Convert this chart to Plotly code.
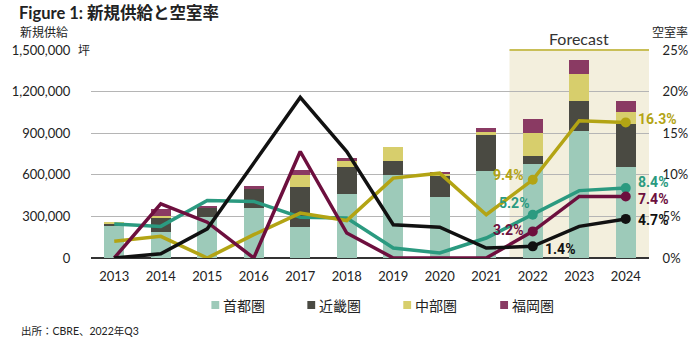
import plotly.graph_objects as go

years = ["2013", "2014", "2015", "2016", "2017", "2018", "2019", "2020", "2021", "2022", "2023", "2024"]

# New supply (tsubo)
supply_tokyo = [229000, 191000, 295000, 360000, 227000, 459000, 596000, 439000, 625000, 681000, 915000, 657000]
supply_osaka = [17000, 97000, 68000, 142000, 285000, 200000, 101000, 150000, 263000, 53000, 220000, 309000]
supply_nagoya = [10000, 17000, 0, 0, 89000, 39000, 106000, 22000, 19000, 171000, 193000, 87000]
supply_fukuoka = [0, 46000, 5000, 14000, 31000, 22000, 0, 12000, 31000, 97000, 99000, 82000]

# Vacancy rate (%)
vac_tokyo = [4.1, 3.8, 6.9, 6.8, 4.9, 4.8, 1.2, 0.6, 2.4, 5.2, 8.1, 8.4]
vac_osaka = [0.0, 0.5, 3.5, 11.4, 19.3, 12.8, 4.0, 3.7, 1.2, 1.4, 3.8, 4.7]
vac_nagoya = [2.0, 2.6, 0.0, 2.8, 5.4, 4.5, 9.6, 10.2, 5.2, 9.4, 16.5, 16.3]
vac_fukuoka = [0.0, 6.5, 4.3, 0.0, 12.8, 3.0, 0.0, 0.0, 0.0, 3.2, 7.4, 7.4]

names = ["首都圏", "近畿圏", "中部圏", "福岡圏"]
left_ticks = [0, 300000, 600000, 900000, 1200000, 1500000]
left_ticktext = ["0", "300,000", "600,000", "900,000", "1,200,000", "1,500,000"]
right_ticks = [0, 5, 10, 15, 20, 25]
right_ticktext = ["0%", "5%", "10%", "15%", "20%", "25%"]
labeled_idx = [9, 11]

bar_colors = ["#9dcab9", "#4a4a42", "#d7ce6c", "#8a3a63"]
line_colors = ["#2b9a80", "#111111", "#b3a414", "#6d0f3e"]

W, H = 700, 342
L, R, T, B = 84, 654, 50, 258
FONT = "Lato, 'Noto Sans CJK JP', sans-serif"
NUMFONT = "Roboto, 'Noto Sans CJK JP', sans-serif"


def px(x):
    return (x - L) / (R - L)


def py(y):
    return (B - y) / (B - T)


fig = go.Figure()

supplies = [supply_tokyo, supply_osaka, supply_nagoya, supply_fukuoka]
for name, vals, col in zip(names, supplies, bar_colors):
    fig.add_trace(go.Bar(x=years, y=vals, name=name, marker=dict(color=col, line=dict(width=0)),
                         yaxis="y", showlegend=False))

vacs = [vac_tokyo, vac_nagoya, vac_fukuoka, vac_osaka]
vcols = [line_colors[0], line_colors[2], line_colors[3], line_colors[1]]
for vals, col in zip(vacs, vcols):
    fig.add_trace(go.Scatter(x=years, y=vals, mode="lines", yaxis="y2", showlegend=False,
                             line=dict(color=col, width=3.5)))
    fig.add_trace(go.Scatter(x=[years[i] for i in labeled_idx], y=[vals[i] for i in labeled_idx],
                             mode="markers", yaxis="y2", showlegend=False,
                             marker=dict(color=col, size=10)))

shapes = [
    dict(type="rect", xref="x", yref="paper", x0=8.5, x1=11.5, y0=0, y1=1,
         fillcolor="#f3efdd", line=dict(width=0), layer="below"),
    dict(type="line", xref="x", yref="paper", x0=8.5, x1=11.5, y0=1, y1=1,
         line=dict(color="#c9bf57", width=2)),
]

annotations = [
    dict(text="<b>Figure 1: 新規供給と空室率</b>", xref="paper", yref="paper", x=px(8), y=py(13),
         xanchor="left", yanchor="middle", showarrow=False, font=dict(size=16.5, color="#222", family=FONT)),
    dict(text="新規供給", xref="paper", yref="paper", x=px(9), y=py(32),
         xanchor="left", yanchor="middle", showarrow=False, font=dict(size=12, color="#222", family=FONT)),
    dict(text="空室率", xref="paper", yref="paper", x=px(696), y=py(32),
         xanchor="right", yanchor="middle", showarrow=False, font=dict(size=12, color="#222", family=FONT)),
    dict(text="坪", xref="paper", yref="paper", x=px(69), y=py(50),
         xanchor="left", yanchor="middle", showarrow=False, font=dict(size=12, color="#222", family=FONT)),
    dict(text="Forecast", xref="x", yref="paper", x=10, y=py(38),
         xanchor="center", yanchor="middle", showarrow=False, font=dict(size=16, color="#333", family=FONT)),
    dict(text="出所：CBRE、2022年Q3", xref="paper", yref="paper", x=px(10), y=py(331),
         xanchor="left", yanchor="middle", showarrow=False, font=dict(size=10.5, color="#222", family=FONT)),
]

# manual legend: small squares + labels
legend_x = [207, 305, 403, 502]
for name, col, lx in zip(names, bar_colors, legend_x):
    shapes.append(dict(type="rect", xref="paper", yref="paper", x0=px(lx), x1=px(lx + 8),
                       y0=py(309), y1=py(301), fillcolor=col, line=dict(width=0)))
    annotations.append(dict(text=name, xref="paper", yref="paper", x=px(lx + 10), y=py(305),
                            xanchor="left", yanchor="middle", showarrow=False,
                            font=dict(size=14, color="#222", family=FONT)))

# value labels (2022 and 2024)
lab_specs = [
    (vac_nagoya, line_colors[2], 9, "right", -8, 5),
    (vac_tokyo, line_colors[0], 9, "right", -2, 12),
    (vac_fukuoka, line_colors[3], 9, "right", -8, 1),
    (vac_osaka, line_colors[1], 9, "left", 10, -3),
    (vac_nagoya, line_colors[2], 11, "left", 10, 3),
    (vac_tokyo, line_colors[0], 11, "left", 10, 6),
    (vac_fukuoka, line_colors[3], 11, "left", 10, -3),
    (vac_osaka, line_colors[1], 11, "left", 10, -1),
]
for vals, col, i, anchor, xs, ys in lab_specs:
    annotations.append(dict(text=f"<b>{vals[i]:.1f}%</b>", xref="x", yref="y2", x=i, y=vals[i],
                            xanchor=anchor, yanchor="middle", xshift=xs, yshift=ys, showarrow=False,
                            font=dict(size=14, color=col, family=NUMFONT)))

fig.update_layout(
    width=W, height=H,
    margin=dict(l=L, r=W - R, t=T, b=H - B, pad=0),
    paper_bgcolor="white", plot_bgcolor="rgba(0,0,0,0)",
    barmode="stack", bargap=0.56, showlegend=False,
    font=dict(family=FONT, color="#222", size=13),
    xaxis=dict(type="category", range=[-0.5, 11.5], showgrid=False, showline=False, zeroline=False,
               ticks="outside", ticklen=6, tickcolor="rgba(0,0,0,0)",
               tickfont=dict(size=13, color="#222", family=FONT)),
    yaxis=dict(range=[0, 1500000], tickvals=left_ticks, ticktext=left_ticktext,
               showgrid=True, gridcolor="#b5b5b5", gridwidth=1, zeroline=True, zerolinecolor="#333",
               zerolinewidth=2, showline=False, ticks="outside", ticklen=17, tickcolor="rgba(0,0,0,0)",
               tickfont=dict(size=13, color="#222", family=FONT)),
    yaxis2=dict(range=[0, 25], tickvals=right_ticks, ticktext=right_ticktext, overlaying="y", side="right",
                showgrid=False, zeroline=False, showline=False, ticks="outside", ticklen=10,
                tickcolor="rgba(0,0,0,0)", tickfont=dict(size=13, color="#222", family=FONT)),
    shapes=shapes, annotations=annotations,
)

fig.write_html("out.html")
